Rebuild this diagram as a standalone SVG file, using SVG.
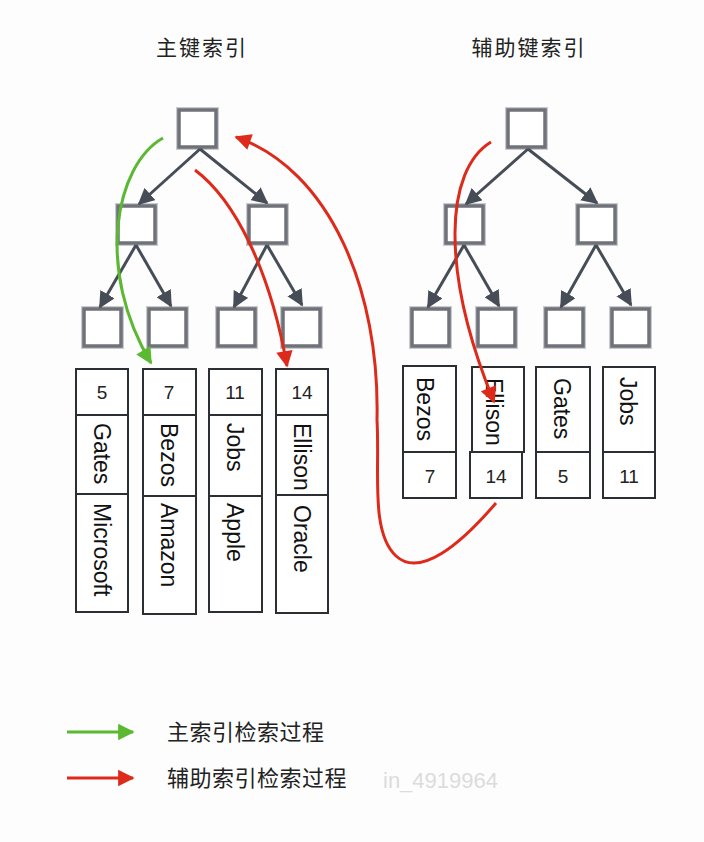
<svg xmlns="http://www.w3.org/2000/svg" width="704" height="842" viewBox="0 0 704 842">
<defs>
<style>
.bg{fill:#fdfdfd}
.tn{fill:#ffffff;stroke:#6f7279;stroke-width:3.5}
.tns{fill:none;stroke:#c9cacd;stroke-width:2}
.edge{stroke:#474d57;stroke-width:3;fill:none}
.cell{fill:#ffffff;stroke:#2b2f33;stroke-width:2}
.num{font-family:"Liberation Sans",Arial,sans-serif;font-size:19px;fill:#222;text-anchor:middle}
.vt{font-family:"Liberation Sans",Arial,sans-serif;font-size:23px;fill:#111}
.title{font-family:"Noto Sans CJK SC","Noto Sans",sans-serif;font-size:21px;fill:#222;text-anchor:middle;letter-spacing:2px}
.leg{font-family:"Noto Sans CJK SC","Noto Sans",sans-serif;font-size:22px;fill:#222;letter-spacing:0.5px}
.green{stroke:#5ab831;stroke-width:3;fill:none}
.red{stroke:#dd2a1b;stroke-width:3;fill:none}
.wm{font-family:"Liberation Sans",Arial,sans-serif;font-size:22px;fill:#dcdcdc}
</style>
<marker id="ah" viewBox="0 0 10 10" refX="9" refY="5" markerWidth="5.5" markerHeight="5.5" markerUnits="strokeWidth" orient="auto">
<path d="M0,0 L10,5 L0,10 z" fill="#474d57"/>
</marker>
<marker id="ag" viewBox="0 0 10 10" refX="9" refY="5" markerWidth="6" markerHeight="5.5" markerUnits="strokeWidth" orient="auto">
<path d="M0,0 L10,5 L0,10 z" fill="#5ab831"/>
</marker>
<marker id="ar" viewBox="0 0 10 10" refX="9" refY="5" markerWidth="6" markerHeight="5.5" markerUnits="strokeWidth" orient="auto">
<path d="M0,0 L10,5 L0,10 z" fill="#dd2a1b"/>
</marker>
</defs>
<rect class="bg" x="0" y="0" width="704" height="842"/>

<g id="titles">
<text class="title" x="202" y="55">主键索引</text>
<text class="title" x="529" y="55">辅助键索引</text>
</g>

<g id="primary-tree">
<g id="p-root"><rect class="tns" x="177" y="108" width="41" height="41"/><rect class="tn" x="179" y="110" width="37" height="37"/></g>
<g id="p-l"><rect class="tns" x="116" y="204" width="41" height="41"/><rect class="tn" x="118" y="206" width="37" height="37"/></g>
<g id="p-r"><rect class="tns" x="247" y="204" width="41" height="41"/><rect class="tn" x="249" y="206" width="37" height="37"/></g>
<g id="p-ll"><rect class="tns" x="82" y="307" width="41" height="41"/><rect class="tn" x="84" y="309" width="37" height="37"/></g>
<g id="p-lr"><rect class="tns" x="147" y="307" width="41" height="41"/><rect class="tn" x="149" y="309" width="37" height="37"/></g>
<g id="p-rl"><rect class="tns" x="216" y="307" width="41" height="41"/><rect class="tn" x="218" y="309" width="37" height="37"/></g>
<g id="p-rr"><rect class="tns" x="281" y="307" width="41" height="41"/><rect class="tn" x="283" y="309" width="37" height="37"/></g>
</g>

<g id="secondary-tree">
<g id="s-root"><rect class="tns" x="506" y="108" width="41" height="41"/><rect class="tn" x="508" y="110" width="37" height="37"/></g>
<g id="s-l"><rect class="tns" x="444" y="204" width="41" height="41"/><rect class="tn" x="446" y="206" width="37" height="37"/></g>
<g id="s-r"><rect class="tns" x="576" y="204" width="41" height="41"/><rect class="tn" x="578" y="206" width="37" height="37"/></g>
<g id="s-ll"><rect class="tns" x="410" y="307" width="41" height="41"/><rect class="tn" x="412" y="309" width="37" height="37"/></g>
<g id="s-lr"><rect class="tns" x="476" y="307" width="41" height="41"/><rect class="tn" x="478" y="309" width="37" height="37"/></g>
<g id="s-rl"><rect class="tns" x="544" y="307" width="41" height="41"/><rect class="tn" x="546" y="309" width="37" height="37"/></g>
<g id="s-rr"><rect class="tns" x="610" y="307" width="41" height="41"/><rect class="tn" x="612" y="309" width="37" height="37"/></g>
</g>

<g id="connectors">
<line class="edge" x1="200" y1="149" x2="139" y2="204" marker-end="url(#ah)"/>
<line class="edge" x1="200" y1="149" x2="267" y2="203" marker-end="url(#ah)"/>
<line class="edge" x1="136" y1="245" x2="100" y2="307" marker-end="url(#ah)"/>
<line class="edge" x1="136" y1="245" x2="171" y2="306" marker-end="url(#ah)"/>
<line class="edge" x1="267" y1="245" x2="234" y2="307" marker-end="url(#ah)"/>
<line class="edge" x1="267" y1="245" x2="302" y2="305" marker-end="url(#ah)"/>
<line class="edge" x1="528" y1="149" x2="466" y2="204" marker-end="url(#ah)"/>
<line class="edge" x1="528" y1="149" x2="597" y2="203" marker-end="url(#ah)"/>
<line class="edge" x1="464" y1="245" x2="428" y2="307" marker-end="url(#ah)"/>
<line class="edge" x1="464" y1="245" x2="499" y2="306" marker-end="url(#ah)"/>
<line class="edge" x1="596" y1="245" x2="561" y2="307" marker-end="url(#ah)"/>
<line class="edge" x1="596" y1="245" x2="631" y2="305" marker-end="url(#ah)"/>
</g>

<g id="primary-records">
<g id="rec-5">
<rect class="cell" x="76" y="369" width="52" height="243"/>
<line class="cell" x1="76" y1="415" x2="128" y2="415"/>
<line class="cell" x1="76" y1="494" x2="128" y2="494"/>
<text class="num" x="102" y="399">5</text>
<text class="vt" transform="translate(102,423) rotate(90)" y="8">Gates</text>
<text class="vt" transform="translate(102,503) rotate(90)" y="8">Microsoft</text>
</g>
<g id="rec-7">
<rect class="cell" x="143" y="369" width="53" height="245"/>
<line class="cell" x1="143" y1="415" x2="196" y2="415"/>
<line class="cell" x1="143" y1="496" x2="196" y2="496"/>
<text class="num" x="169" y="399">7</text>
<text class="vt" transform="translate(169,423) rotate(90)" y="8">Bezos</text>
<text class="vt" transform="translate(169,503) rotate(90)" y="8">Amazon</text>
</g>
<g id="rec-11">
<rect class="cell" x="209" y="369" width="53" height="243"/>
<line class="cell" x1="209" y1="415" x2="262" y2="415"/>
<line class="cell" x1="209" y1="496" x2="262" y2="496"/>
<text class="num" x="235" y="399">11</text>
<text class="vt" transform="translate(235,423) rotate(90)" y="8">Jobs</text>
<text class="vt" transform="translate(235,503) rotate(90)" y="8">Apple</text>
</g>
<g id="rec-14">
<rect class="cell" x="276" y="369" width="52" height="244"/>
<line class="cell" x1="276" y1="415" x2="328" y2="415"/>
<line class="cell" x1="276" y1="495" x2="328" y2="495"/>
<text class="num" x="302" y="399">14</text>
<text class="vt" transform="translate(302,423) rotate(90)" y="8">Ellison</text>
<text class="vt" transform="translate(302,505) rotate(90)" y="8">Oracle</text>
</g>
</g>

<g id="secondary-records">
<g id="srec-bezos">
<rect class="cell" x="403" y="366" width="53" height="132"/>
<line class="cell" x1="403" y1="452" x2="456" y2="452"/>
<text class="vt" transform="translate(425,377) rotate(90)" y="8">Bezos</text>
<text class="num" x="430" y="483">7</text>
</g>
<g id="srec-ellison">
<rect class="cell" x="472" y="367" width="52" height="85"/>
<rect class="cell" x="470" y="452" width="52" height="46"/>
<text class="vt" transform="translate(494,378) rotate(90)" y="8">Ellison</text>
<text class="num" x="496" y="483">14</text>
</g>
<g id="srec-gates">
<rect class="cell" x="536" y="367" width="54" height="131"/>
<line class="cell" x1="536" y1="452" x2="590" y2="452"/>
<text class="vt" transform="translate(562,378) rotate(90)" y="8">Gates</text>
<text class="num" x="563" y="483">5</text>
</g>
<g id="srec-jobs">
<rect class="cell" x="603" y="367" width="52" height="131"/>
<line class="cell" x1="603" y1="452" x2="655" y2="452"/>
<text class="vt" transform="translate(628,377) rotate(90)" y="8">Jobs</text>
<text class="num" x="629" y="483">11</text>
</g>
</g>

<g id="search-paths">
<path class="green" d="M163,138 C115,165 95,270 151,363" marker-end="url(#ag)"/>
<path class="red" d="M195,170 C235,200 270,270 287,366" marker-end="url(#ar)"/>
<path class="red" d="M496,503 C460,545 420,578 396,556 C370,532 380,470 377,420 C380,290 330,170 236,137" marker-end="url(#ar)"/>
<path class="red" d="M491,142 C445,170 440,270 494,402" marker-end="url(#ar)"/>
</g>

<g id="legend">
<line class="green" x1="67" y1="732" x2="133" y2="732" marker-end="url(#ag)"/>
<text class="leg" x="167" y="740">主索引检索过程</text>
<line class="red" x1="67" y1="778" x2="133" y2="778" marker-end="url(#ar)"/>
<text class="leg" x="167" y="786">辅助索引检索过程</text>
<text class="wm" x="383" y="788">in_4919964</text>
</g>
</svg>
